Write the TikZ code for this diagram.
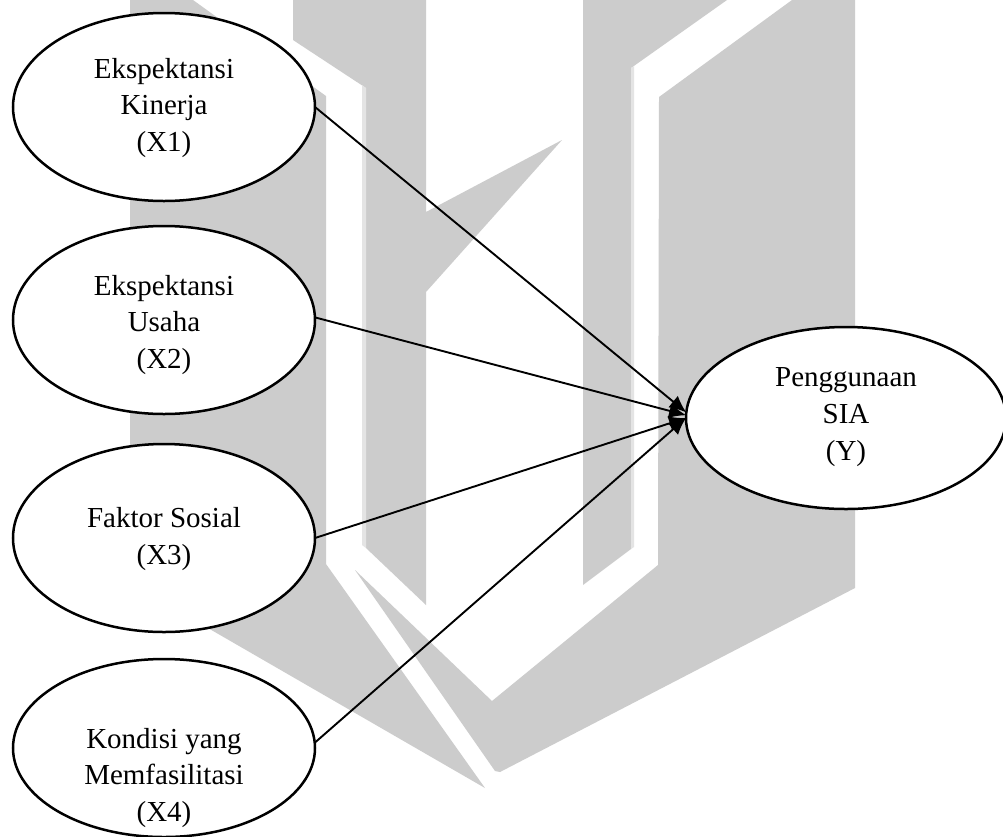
\documentclass[tikz,border=0pt]{standalone}
\usepackage{fontspec}
\setmainfont{Liberation Serif}
\usetikzlibrary{arrows.meta,shapes.geometric}
\definecolor{wm}{HTML}{CCCCCC}
\definecolor{wmlight}{HTML}{E4E4E4}
\tikzset{
  latent/.style={draw=black,fill=white,ellipse,line width=2.5pt,inner sep=0pt,outer sep=0pt},
  xvar/.style={latent,minimum width=302pt,minimum height=188pt},
  lbl/.style={align=center,inner sep=0pt,font=\fontsize{29}{36.7}\selectfont},
  path1/.style={line width=1.9pt,-{Latex[length=17pt,width=15pt]}},
}
\begin{document}
\begin{tikzpicture}[x=1pt,y=-1pt]
\clip (0,0) rectangle (1003,836);
\fill[white] (0,0) rectangle (1003,836);
% watermark
\fill[wm] (130,0) -- (193,0) -- (326,96) -- (326,564) -- (485,788) -- (130,583) -- cycle;
\fill[wm] (293,0) -- (426,0) -- (426,212) -- (562,140) -- (426,292) -- (426,605) -- (366,548) -- (366,88) -- (293,40) -- cycle;
\fill[wmlight] (362,85) -- (366,88) -- (366,548) -- (362,545) -- cycle;
\fill[wm] (583,0) -- (727,0) -- (631,68) -- (631,549) -- (583,585) -- cycle;
\fill[wmlight] (631,68) -- (634,66) -- (634,547) -- (631,549) -- cycle;
\fill[wm] (355,570) -- (492,701) -- (658,565) -- (659,97) -- (792,0) -- (855,0) -- (855,588) -- (500,772) -- (495,771) -- cycle;
% ellipses
\node[xvar] (x1) at (164,107) {};
\node[xvar] (x2) at (164,320) {};
\node[xvar] (x3) at (164,538) {};
\node[xvar,minimum height=178pt] (x4) at (164,748) {};
\node[latent,minimum width=320pt,minimum height=182pt] (y) at (846,418) {};
% labels
\node[lbl] (t1) at (164,108) {Ekspektansi\\Kinerja\\(X1)};
\node[lbl] (t2) at (164,325) {Ekspektansi\\Usaha\\(X2)};
\node[lbl] (t3) at (164,539) {Faktor Sosial\\(X3)};
\node[lbl] (t4) at (164,778) {Kondisi yang\\Memfasilitasi\\(X4)};
\node[lbl] (t5) at (846,417) {Penggunaan\\SIA\\(Y)};
% connectors
\draw[path1] (x1.0) -- (y.178);
\draw[path1] (x2.1) -- (y.179);
\draw[path1] (x3.0) -- (y.180);
\draw[path1] (x4.2) -- (y.180);
\end{tikzpicture}
\end{document}
